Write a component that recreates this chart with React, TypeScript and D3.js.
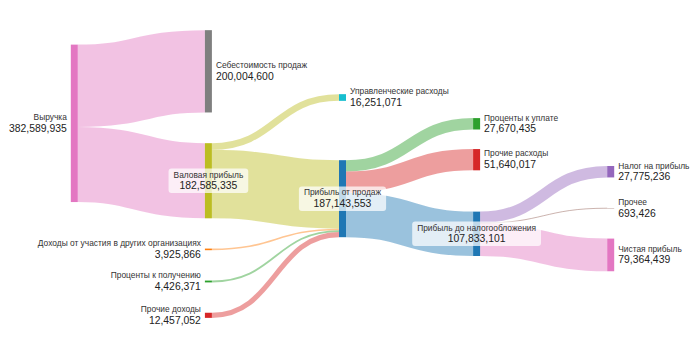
import React, { useEffect, useRef } from 'react';
import * as d3 from 'd3';

// ---------- data ----------
const nodeNames = [
  'Выручка',
  'Себестоимость продаж',
  'Валовая прибыль',
  'Управленческие расходы',
  'Прибыль от продаж',
  'Доходы от участия в других организациях',
  'Проценты к получению',
  'Прочие доходы',
  'Проценты к уплате',
  'Прочие расходы',
  'Прибыль до налогообложения',
  'Налог на прибыль',
  'Прочее',
  'Чистая прибыль',
];
// index into d3.schemeCategory10
const nodeColorIndex = [6, 7, 8, 9, 0, 1, 2, 3, 2, 3, 0, 4, 5, 6];

const linkSources = [0, 0, 2, 2, 5, 6, 7, 4, 4, 4, 10, 10, 10];
const linkTargets = [1, 2, 3, 4, 4, 4, 4, 8, 9, 10, 11, 12, 13];
const linkValues = [
  200004600, 182585335, 16251071, 166334264, 3925866, 4426371, 12457052,
  27670435, 51640017, 107833101, 27775236, 693426, 79364439,
];
// which end of the link gives its colour
const linkColorFrom = [
  'source', 'source', 'source', 'source', 'source', 'source', 'source',
  'target', 'target', 'target', 'target', 'target', 'target',
];

// ---------- layout options (node centre as a fraction of the plot height, like plotly's node.y) ----------
const nodeYFraction = [
  0.3235, 0.1426, 0.5231, 0.2337, 0.5855, 0.7618, 0.8734, 0.991,
  0.3251, 0.4499, 0.7076, 0.4917, 0.6186, 0.781,
];

const W = 700;
const H = 350;
const PLOT = { left: 70.8, right: 614.2, top: 30.3, bottom: 317.9 };
const NODE_W = 7;
const NODE_PAD = 30.4;
const FONT = '"Liberation Sans", Arial, Helvetica, sans-serif';

export default function App() {
  const ref = useRef<SVGSVGElement>(null);

  useEffect(() => {
    const svg = d3.select(ref.current);
    svg.selectAll('*').remove();
    const color = (i: number) => d3.schemeCategory10[nodeColorIndex[i]];

    // graph
    const nodes: any[] = nodeNames.map((name, i) => ({ name, index: i, sourceLinks: [], targetLinks: [] }));
    const links: any[] = linkSources.map((s, i) => ({
      index: i, source: nodes[s], target: nodes[linkTargets[i]], value: linkValues[i], from: linkColorFrom[i],
    }));
    for (const l of links) { l.source.sourceLinks.push(l); l.target.targetLinks.push(l); }
    for (const n of nodes) {
      n.value = Math.max(d3.sum(n.sourceLinks, (l: any) => l.value), d3.sum(n.targetLinks, (l: any) => l.value));
    }
    // depths
    let current = new Set(nodes); let depth = 0;
    while (current.size) {
      const next = new Set<any>();
      for (const n of current) { n.depth = depth; for (const l of n.sourceLinks) next.add(l.target); }
      depth++; current = next;
    }
    // center alignment
    for (const n of nodes) {
      n.layer = n.targetLinks.length ? n.depth
        : n.sourceLinks.length ? (d3.min(n.sourceLinks, (l: any) => l.target.depth) as number) - 1 : 0;
    }
    const nCols = (d3.max(nodes, (n: any) => n.layer) as number) + 1;
    const columns = d3.groups(nodes, (n: any) => n.layer).map(d => d[1]);

    const xScale = d3.scaleLinear().domain([0, nCols - 1]).range([PLOT.left, PLOT.right - NODE_W]);
    const yScale = d3.scaleLinear().domain([0, 1]).range([PLOT.top, PLOT.bottom]);
    const maxLen = d3.max(columns, c => c.length) as number;
    const ky = d3.min(columns, c => (PLOT.bottom - PLOT.top - (maxLen - 1) * NODE_PAD) / d3.sum(c, (n: any) => n.value)) as number;
    const vScale = d3.scaleLinear().domain([0, 1]).range([0, ky]);

    for (const n of nodes) {
      n.x0 = xScale(n.layer); n.x1 = n.x0 + NODE_W;
      const h = vScale(n.value);
      const cy = yScale(nodeYFraction[n.index]);
      n.y0 = cy - h / 2; n.y1 = cy + h / 2;
    }
    for (const l of links) l.width = vScale(l.value);
    for (const n of nodes) {
      n.sourceLinks.sort((a: any, b: any) => a.target.y0 - b.target.y0);
      n.targetLinks.sort((a: any, b: any) => a.source.y0 - b.source.y0);
      let a = n.y0, b = n.y0;
      for (const l of n.sourceLinks) { l.y0 = a + l.width / 2; a += l.width; }
      for (const l of n.targetLinks) { l.y1 = b + l.width / 2; b += l.width; }
    }

    const fmt = d3.format(',');
    const linkPath = d3.linkHorizontal<any, [number, number]>()
      .source((d: any) => [d.source.x1, d.y0])
      .target((d: any) => [d.target.x0, d.y1]);

    svg.append('g').attr('fill', 'none')
      .selectAll('path').data(links).join('path')
      .attr('d', (d: any) => linkPath(d))
      .attr('stroke', (d: any) => color(d.from === 'source' ? d.source.index : d.target.index))
      .attr('stroke-opacity', 0.45)
      .attr('stroke-width', (d: any) => Math.max(1, d.width));

    svg.append('g').selectAll('rect').data(nodes).join('rect')
      .attr('x', (d: any) => d.x0).attr('y', (d: any) => d.y0)
      .attr('width', (d: any) => d.x1 - d.x0)
      .attr('height', (d: any) => d.y1 - d.y0)
      .attr('fill', (d: any) => color(d.index));

    const labels = svg.append('g').attr('font-family', FONT);
    for (const n of nodes) {
      const cy = (n.y0 + n.y1) / 2;
      let x: number, anchor: string, boxed = false;
      if (!n.targetLinks.length) { x = n.x0 - 4; anchor = 'end'; }
      else if (!n.sourceLinks.length) { x = n.x1 + 4; anchor = 'start'; }
      else { x = (n.x0 + n.x1) / 2; anchor = 'middle'; boxed = true; }
      const lg = labels.append('g');
      const box = boxed ? lg.append('rect') : null;
      const t1 = lg.append('text').attr('x', x).attr('y', cy - 3.2).attr('text-anchor', anchor)
        .attr('font-size', 8.4).attr('fill', '#333').text(n.name);
      const t2 = lg.append('text').attr('x', x).attr('y', cy + 8.3).attr('text-anchor', anchor)
        .attr('font-size', 10.4).attr('fill', '#222').text(fmt(n.value));
      if (box) {
        const w = Math.max(
          (t1.node() as SVGTextElement).getComputedTextLength(),
          (t2.node() as SVGTextElement).getComputedTextLength()) + 10;
        box.attr('x', x - w / 2).attr('y', cy - 12.2).attr('width', w).attr('height', 24.4)
          .attr('rx', 3).attr('fill', '#fff').attr('fill-opacity', 0.72);
      }
    }
  }, []);

  return (
    <svg ref={ref} width={W} height={H}
      style={{ position: 'absolute', left: 0, top: 0, background: '#fff' }} />
  );
}
